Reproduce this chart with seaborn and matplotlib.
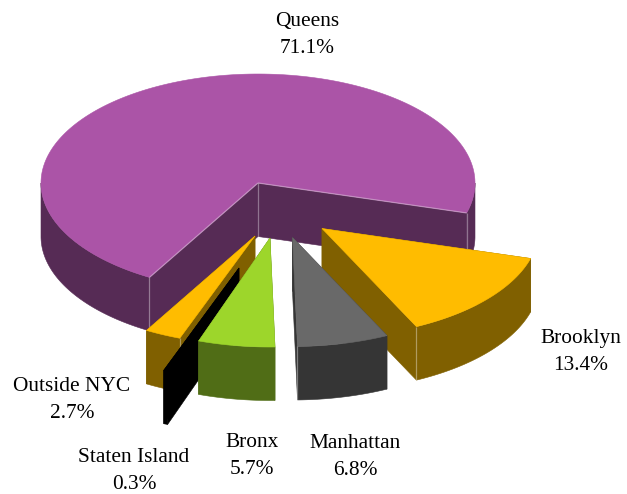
import numpy as np
import seaborn as sns
import matplotlib.pyplot as plt
from matplotlib.patches import Polygon

sns.set_theme(style = "white")
plt.rcParams["font.family"] = ["Liberation Serif", "DejaVu Serif"]

# clockwise from the left edge of Queens
BOROUGHS = ["Queens", "Brooklyn", "Manhattan", "Bronx", "Staten Island", "Outside NYC"]
SHARES = [71.1, 13.4, 6.8, 5.7, 0.3, 2.7]

TOP_COLORS = ["#AB54A7", "#FFBC00", "#696969", "#9DD62B", "#000000", "#FFBC00"]
SIDE_COLORS = ["#562B55", "#806000", "#353535", "#506D16", "#000000", "#806000"]

# layout in pixels
CX, CY = 258, 183
RX, RY = 217, 109
DEPTH = 53.5
START_ANGLE = 240
EXPLODE = [(0, 0), (64, 45.5), (34.5, 54.5), (12, 55), (-19, 85), (-3, 53)]
LABEL_POS = [(307, 35), (581, 352), (355, 457), (252, 456), (134, 471), (72, 400)]
DRAW_ORDER = [0, 1, 2, 5, 4, 3]

fig, ax = plt.subplots(figsize = (6.27, 4.94))
ax.set_xlim(0, 627); ax.set_ylim(494, 0)
ax.axis("off")
fig.subplots_adjust(0, 0, 1, 1)

ends = START_ANGLE - 3.6 * np.cumsum(SHARES)
starts = np.r_[START_ANGLE, ends[:-1]]


def rim(a0, a1, ox, oy, drop = 0):
    t = np.radians(np.linspace(a0, a1, 200))
    return np.c_[CX + ox + RX * np.cos(t), CY + oy - RY * np.sin(t) + drop]


for z, i in enumerate(DRAW_ORDER):
    a0, a1 = starts[i], ends[i]
    ox, oy = EXPLODE[i]
    apex = np.array([CX + ox, CY + oy])
    down = np.array([0, DEPTH])
    side = dict(fc = SIDE_COLORS[i], ec = SIDE_COLORS[i], lw = 0.4, zorder = z)

    # the two radial walls
    for a in (a0, a1):
        corner = rim(a, a, ox, oy)[0]
        ax.add_patch(Polygon([apex, corner, corner + down, apex + down], **side))

    # the outer wall, only the part that faces us
    for lo, hi in ((a1, a0), (a1 + 360, a0 + 360), (a1 - 360, a0 - 360)):
        lo, hi = max(lo, 180), min(hi, 360)
        if lo < hi:
            ax.add_patch(Polygon(np.r_[rim(hi, lo, ox, oy), rim(lo, hi, ox, oy, DEPTH)], **side))

    top = np.r_[[apex], rim(a0, a1, ox, oy)]
    ax.add_patch(Polygon(top, fc = TOP_COLORS[i], ec = TOP_COLORS[i], lw = 0.4, zorder = z))

    # thin light seams on the walls we can see
    seam = dict(color = "white", alpha = 0.35, lw = 0.9, solid_capstyle = "butt", zorder = z + 0.5)
    if i == 4:
        continue
    vis0 = np.sin(np.radians(a0 + 90)) < 0
    vis1 = np.sin(np.radians(a1 - 90)) < 0
    for a, vis in ((a0, vis0), (a1, vis1)):
        if vis and np.sin(np.radians(a)) < -0.05:
            c = rim(a, a, ox, oy)[0]
            ax.plot([c[0], c[0]], [c[1], c[1] + DEPTH], **seam)
    if i == 0:
        ax.plot([apex[0], apex[0]], [apex[1], apex[1] + DEPTH], **seam)
        for a in (a0, a1):
            c = rim(a, a, ox, oy)[0]
            ax.plot([apex[0], c[0]], [apex[1], c[1]], **seam)

for name, share, (x, y) in zip(BOROUGHS, SHARES, LABEL_POS):
    ax.text(x, y, f"{name}\n{share}%", ha = "center", va = "center",
            fontsize = 15.4, color = "black", linespacing = 1.55, zorder = 20)

fig.savefig("out.png", dpi = 100, facecolor = "white")
